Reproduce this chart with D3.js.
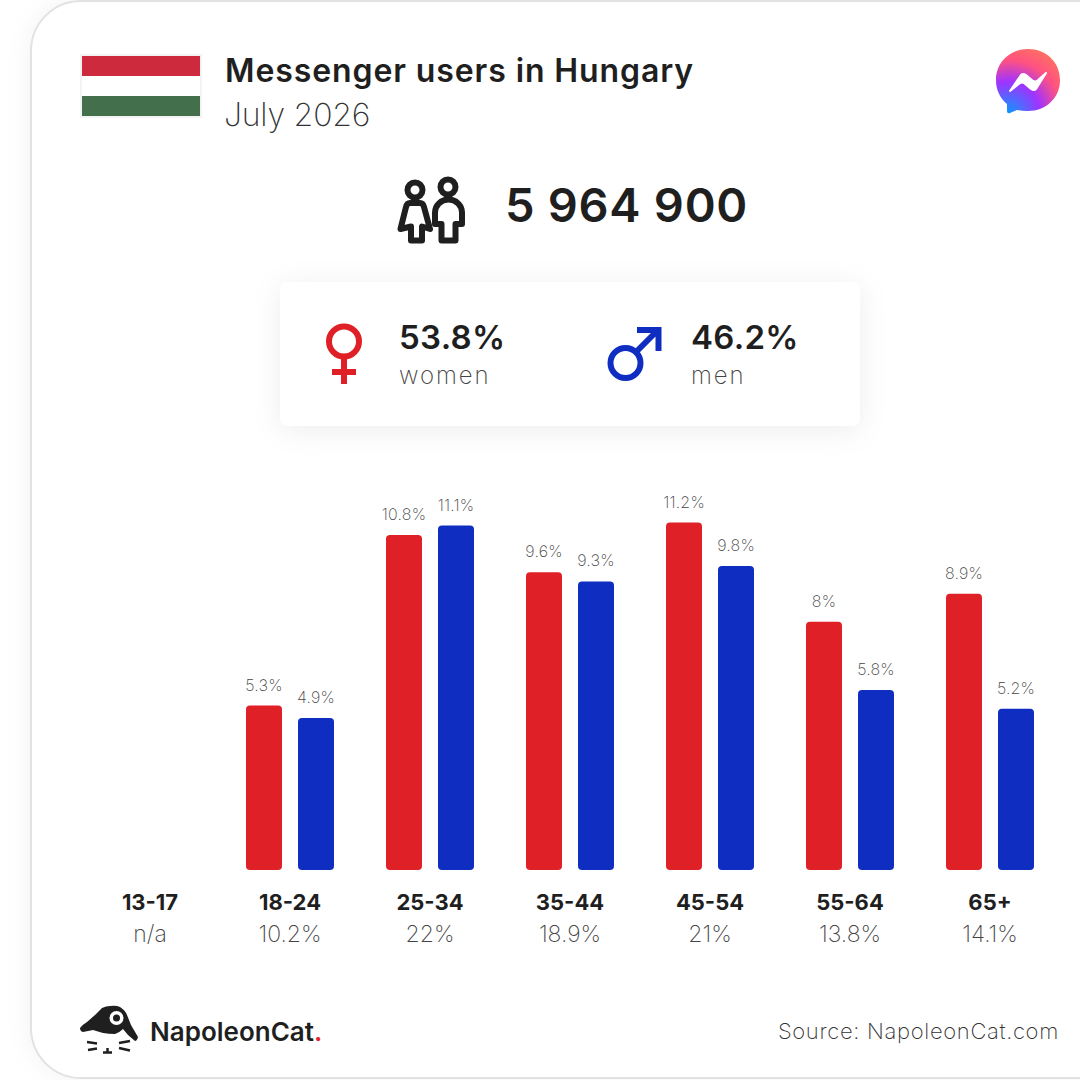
<!DOCTYPE html>
<html>
<head>
<meta charset="utf-8">
<script src="https://cdn.jsdelivr.net/npm/d3@7"></script>
<style>
body { margin: 0; background: #fff; }
svg { display: block; font-family: Inter, "Noto Sans", sans-serif; }
.axis .domain, .axis line { display: none; }
</style>
</head>
<body>
<div id="canvas"></div>
<script>
var ageGroups = ["13-17", "18-24", "25-34", "35-44", "45-54", "55-64", "65+"]
var womenValues = [null, 5.3, 10.8, 9.6, 11.2, 8, 8.9]
var menValues = [null, 4.9, 11.1, 9.3, 9.8, 5.8, 5.2]
var groupTotals = ["n/a", "10.2%", "22%", "18.9%", "21%", "13.8%", "14.1%"]
var genderShares = ["53.8%", "46.2%"]
var genderNames = ["women", "men"]

var red = "#df2027"
var blue = "#0f2ec1"
var dark = "#1f1f1f"
var grey = "#5f5f5f"

var svg = d3.select("#canvas").append("svg")
    .attr("width", 1080)
    .attr("height", 1080)

var defs = svg.append("defs")

var soft = defs.append("filter").attr("id", "soft")
    .attr("x", "-20%").attr("y", "-40%").attr("width", "140%").attr("height", "180%")
soft.append("feDropShadow").attr("dx", 0).attr("dy", 4).attr("stdDeviation", 14)
    .attr("flood-color", "#000").attr("flood-opacity", 0.07)

var cardShadow = defs.append("filter").attr("id", "cardShadow")
    .attr("x", "-10%").attr("y", "-10%").attr("width", "120%").attr("height", "120%")
cardShadow.append("feDropShadow").attr("dx", 0).attr("dy", 0).attr("stdDeviation", 12)
    .attr("flood-color", "#000").attr("flood-opacity", 0.05)

var msgGrad = defs.append("radialGradient").attr("id", "msgGrad")
    .attr("gradientUnits", "userSpaceOnUse")
    .attr("cx", 1008).attr("cy", 114).attr("r", 72)
msgGrad.append("stop").attr("offset", "0").attr("stop-color", "#0a99ff")
msgGrad.append("stop").attr("offset", "0.45").attr("stop-color", "#a033ff")
msgGrad.append("stop").attr("offset", "0.75").attr("stop-color", "#ff5280")
msgGrad.append("stop").attr("offset", "1").attr("stop-color", "#ff7061")

// card
svg.append("rect")
    .attr("x", 31).attr("y", 1).attr("width", 1200).attr("height", 1077).attr("rx", 50)
    .attr("fill", "#fff").attr("stroke", "#e2e2e2").attr("stroke-width", 2)
    .attr("filter", "url(#cardShadow)")

// flag
var flag = svg.append("g")
flag.append("rect").attr("x", 80).attr("y", 54).attr("width", 122).attr("height", 64).attr("fill", "#f3f3f3")
flag.append("rect").attr("x", 82).attr("y", 56).attr("width", 118).attr("height", 20).attr("fill", "#cd2a3e")
flag.append("rect").attr("x", 82).attr("y", 76).attr("width", 118).attr("height", 20).attr("fill", "#fff")
flag.append("rect").attr("x", 82).attr("y", 96).attr("width", 118).attr("height", 20).attr("fill", "#436f4d")

function label(x, y, str, size, weight, color, anchor, spacing) {
    return svg.append("text")
        .attr("x", x).attr("y", y)
        .attr("font-size", size)
        .attr("font-weight", weight)
        .attr("fill", color)
        .attr("text-anchor", anchor || "start")
        .attr("letter-spacing", spacing || 0)
        .text(str)
}

label(225, 82, "Messenger users in Hungary", 32, 600, dark, "start", 0.9)
label(224, 126, "July 2026", 32, 200, "#333", "start", -0.2)
label(505, 222, "5 964 900", 47, 600, dark, "start", 0.7)

// messenger icon
var msg = svg.append("g")
msg.append("path")
    .attr("d", "M1028,49 C1010,49 996,62 996,80 C996,90 1000,98 1007,104 L1007,111 Q1007,114 1010,113 L1017,110 Q1022,111 1028,111 C1046,111 1060,98 1060,80 C1060,62 1046,49 1028,49 Z")
    .attr("fill", "url(#msgGrad)")
msg.append("path")
    .attr("d", "M1010,91 L1021,75 Q1023,73 1026,75 L1033,81 Q1035,82 1037,81 L1046,73 L1036,89 Q1034,91 1031,89 L1024,83 Q1022,82 1020,83 L1010,91 Z")
    .attr("fill", "#fff").attr("stroke", "#fff").attr("stroke-width", 2).attr("stroke-linejoin", "round")

// people icon
var people = svg.append("g").attr("fill", "none").attr("stroke", dark)
    .attr("stroke-width", 6).attr("stroke-linejoin", "round")
people.append("circle").attr("cx", 415).attr("cy", 190).attr("r", 7.5)
people.append("circle").attr("cx", 448).attr("cy", 187).attr("r", 7.5)
people.append("path").attr("d", "M410,203 H420 Q423,203 424,207 L430,229 L422,226.5 V240.5 H411 V226.5 L400.5,229 L406,207 Q407,203 410,203 Z")
people.append("path").attr("d", "M441.5,224 H435 V212.5 A13.5,13 0 0 1 462,212.5 V224 H455.5 V240.5 H441.5 Z")

// gender panel
svg.append("rect")
    .attr("x", 280).attr("y", 282).attr("width", 580).attr("height", 144).attr("rx", 8)
    .attr("fill", "#fff").attr("filter", "url(#soft)")

var female = svg.append("g").attr("fill", "none").attr("stroke", red).attr("stroke-width", 6)
female.append("circle").attr("cx", 344).attr("cy", 341.5).attr("r", 15)
female.append("path").attr("d", "M344,358 V384 M332,372 H356")

var male = svg.append("g").attr("fill", "none").attr("stroke", blue).attr("stroke-width", 6)
male.append("circle").attr("cx", 625.5).attr("cy", 363).attr("r", 15)
male.append("path").attr("d", "M636,352 L658,330 M637,330 H658.5 V351")

label(399, 349, genderShares[0], 33, 600, dark, "start", 0.3)
label(399, 384, genderNames[0], 24, 200, "#444", "start", 1.9)
label(691, 349, genderShares[1], 33, 600, dark, "start", 0.3)
label(691, 384, genderNames[1], 24, 200, "#444", "start", 1.9)

// bars
var x = d3.scaleBand().domain(ageGroups).range([80, 1060])
var y = d3.scaleLinear().domain([0, 11.2]).range([870, 522.5])
var barWidth = 36
var barGap = 8

var series = [
    { values: womenValues, color: red, side: -1 },
    { values: menValues, color: blue, side: 1 }
]

series.forEach(function (s) {
    var rows = ageGroups
        .map(function (g, i) { return { group: g, value: s.values[i] } })
        .filter(function (d) { return d.value !== null })

    function barX(d) {
        var c = x(d.group) + x.bandwidth() / 2
        return s.side < 0 ? c - barGap - barWidth : c + barGap
    }

    svg.selectAll(null).data(rows).enter().append("rect")
        .attr("x", barX)
        .attr("y", function (d) { return y(d.value) })
        .attr("width", barWidth)
        .attr("height", function (d) { return y(0) - y(d.value) })
        .attr("rx", 4)
        .attr("fill", s.color)

    svg.selectAll(null).data(rows).enter().append("text")
        .attr("x", function (d) { return barX(d) + barWidth / 2 })
        .attr("y", function (d) { return y(d.value) - 15 })
        .attr("text-anchor", "middle")
        .attr("font-size", 16)
        .attr("font-weight", 200)
        .attr("letter-spacing", 0.2)
        .attr("fill", "#444")
        .text(function (d) { return d.value + "%" })
})

// age labels
var axis = svg.append("g")
    .attr("class", "axis")
    .attr("transform", "translate(0,888)")
    .call(d3.axisBottom(x).tickSize(0).tickPadding(0))
axis.selectAll("text")
    .attr("y", 22)
    .attr("dy", 0)
    .attr("font-family", "Inter, sans-serif")
    .attr("font-size", 22)
    .attr("font-weight", 700)
    .attr("fill", dark)

svg.selectAll(null).data(ageGroups).enter().append("text")
    .attr("x", function (d) { return x(d) + x.bandwidth() / 2 })
    .attr("y", 942)
    .attr("text-anchor", "middle")
    .attr("font-size", 23)
    .attr("font-weight", 200)
    .attr("fill", "#444")
    .text(function (d, i) { return groupTotals[i] })

// logo
var logo = svg.append("g")
logo.append("path")
    .attr("d", "M80,1028 Q82,1025 87,1022 L95,1015 L102,1008 Q106,1006 110,1006 Q116,1005 120,1007 Q125,1010 127,1015 L131,1025 L138,1037 Q137,1041 135,1041 L128,1035 L123,1029 Q119,1033 115,1034 Q109,1034 103,1033 L93,1030 L83,1032 Q80,1031 80,1028 Z")
    .attr("fill", dark)
logo.append("circle").attr("cx", 116.5).attr("cy", 1018).attr("r", 7).attr("fill", "#fff")
logo.append("circle").attr("cx", 116.5).attr("cy", 1018).attr("r", 3.5).attr("fill", dark)
logo.append("path")
    .attr("d", "M87,1042 L97,1043.5 M88,1050 L97,1048.5 M119,1043 L130,1041 M119,1048 L130,1050.5 M103,1052.5 H112 M107.5,1052.5 V1048")
    .attr("fill", "none").attr("stroke", dark).attr("stroke-width", 2.5)

var brand = label(150, 1041, "NapoleonCat", 26, 600, dark)
brand.append("tspan").attr("fill", "#e8232e").text(".")

label(1059, 1039, "Source: NapoleonCat.com", 22, 200, "#333", "end", 0.68)
</script>
</body>
</html>
